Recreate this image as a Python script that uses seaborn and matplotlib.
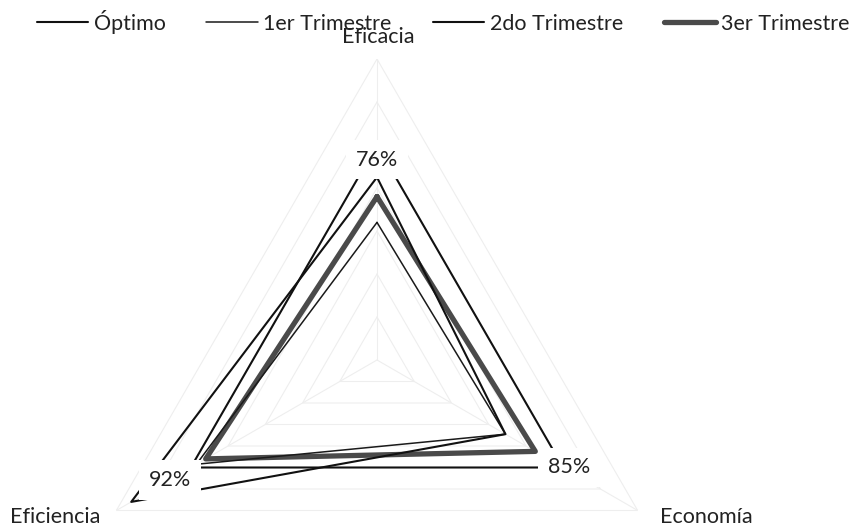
import numpy as np
import pandas as pd
import matplotlib
matplotlib.use("Agg")
import matplotlib.pyplot as plt
import seaborn as sns
from matplotlib.lines import Line2D

# ---- data ----
categories = ["Eficacia", "Economía", "Eficiencia"]
series_names = ["Óptimo", "1er Trimestre", "2do Trimestre", "3er Trimestre"]
optimo = [1.00, 1.00, 1.00]
trim1 = [0.64, 0.69, 0.97]
trim2 = [0.85, 0.69, 1.32]
trim3 = [0.76, 0.85, 0.92]
label_texts = ["76%", "85%", "92%"]
grid_levels = [0.2, 0.4, 0.6, 0.8, 1.0, 1.2, 1.4]

sns.set_theme(style="white")
plt.rcParams["font.family"] = ["Lato", "DejaVu Sans"]

W, H = 860, 527
FS = 15.5
fig = plt.figure(figsize=(W / 100, H / 100), dpi=100)
cx, cy, R = 377, 360, 301
ax = fig.add_axes([(cx - R) / W, 1 - (cy + R) / H, 2 * R / W, 2 * R / H],
                  projection="polar")
ax.set_theta_offset(np.pi / 2)
ax.set_theta_direction(-1)
ax.set_ylim(0, 1.4)
ax.grid(False)
ax.spines["polar"].set_visible(False)
ax.patch.set_alpha(0)

n = len(categories)
theta = np.linspace(0, 2 * np.pi, n + 1)

# faint grid polygons and spokes
for lvl in grid_levels:
    ax.plot(theta, [lvl] * (n + 1), color="#eeeeee", lw=0.8, zorder=1)
for t in theta[:-1]:
    ax.plot([t, t], [0, 1.4], color="#eeeeee", lw=0.8, zorder=1)

styles = {
    "Óptimo": dict(color="#111111", lw=1.5),
    "1er Trimestre": dict(color="#1a1a1a", lw=1.1),
    "2do Trimestre": dict(color="#111111", lw=1.5),
    "3er Trimestre": dict(color="#4a4a4a", lw=3.8),
}
data = {"Óptimo": optimo, "1er Trimestre": trim1,
        "2do Trimestre": trim2, "3er Trimestre": trim3}

handles = []
for name in series_names:
    vals = list(data[name]) + [data[name][0]]
    df = pd.DataFrame({"theta": theta, "r": vals})
    st = styles[name]
    sns.lineplot(data=df, x="theta", y="r", sort=False, estimator=None,
                 ax=ax, color=st["color"], linewidth=st["lw"], legend=False,
                 zorder=3 if name != "3er Trimestre" else 2)
    handles.append(Line2D([], [], color=st["color"], lw=st["lw"]))
ax.set_xlabel("")
ax.set_ylabel("")
ax.set_ylim(0, 1.4)
ax.set_xticks([])
ax.set_yticks([])

# data labels for 3er Trimestre (white boxes hide lines beneath)
offsets = [(0, 37), (34, -16), (-36, -21)]
for i, txt in enumerate(label_texts):
    ax.annotate(txt, xy=(theta[i], trim3[i]), xytext=offsets[i],
                textcoords="offset pixels", ha="center", va="center",
                fontsize=FS, color="#222222", zorder=5,
                bbox=dict(boxstyle="square,pad=0.45", fc="white", ec="none"))

# category labels
fig.text(378 / W, 1 - 37 / H, categories[0], ha="center", va="center",
         fontsize=FS, color="#222222")
fig.text(706 / W, 1 - 517 / H, categories[1], ha="center", va="center",
         fontsize=FS, color="#222222")
fig.text(55 / W, 1 - 517 / H, categories[2], ha="center", va="center",
         fontsize=FS, color="#222222")

fig.legend(handles, series_names, loc="center", bbox_to_anchor=(443 / W, 1 - 22 / H),
           ncol=4, frameon=False, fontsize=FS, handlelength=2.4,
           handletextpad=0.25, columnspacing=1.9, labelcolor="#222222")

fig.savefig("out.png", dpi=100)
